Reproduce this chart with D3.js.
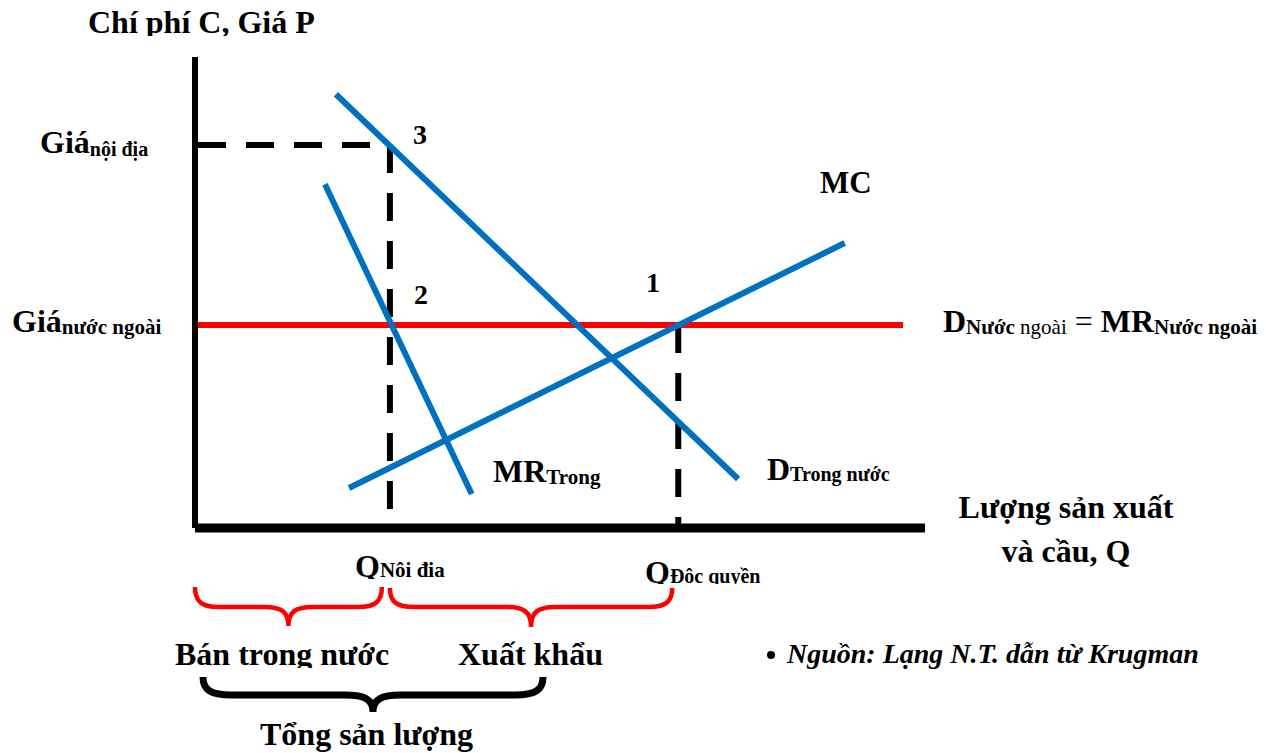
<!DOCTYPE html>
<html>
<head>
<meta charset="utf-8">
<script src="https://cdn.jsdelivr.net/npm/d3@7"></script>
<style>
  html, body { margin: 0; padding: 0; background: #fff; }
  svg { display: block; font-family: "Liberation Serif", "Times New Roman", serif; }
  text { font-weight: bold; fill: #000; }
</style>
</head>
<body>
<svg id="chart" width="1266" height="753"></svg>
<script>
// ---------- data (quantity Q on x, price/cost P on y, arbitrary units 0..100) ----------
const demandDomestic = [[19.3, 92.1], [74.4, 10.4]];   // D trong nước
const mrDomestic     = [[17.8, 73.0], [37.9, 7.2]];    // MR trong
const marginalCost   = [[21.1, 8.5],  [89.0, 60.5]];   // MC
const priceForeign   = 43.1;                            // Giá nước ngoài
const foreignLineEnd = 97.0;
const priceDomestic  = 81.3;                            // Giá nội địa
const qDomestic      = 26.7;                            // Q nội địa
const qMonopoly      = 66.2;                            // Q độc quyền
const pointLabels    = ["3", "2", "1"];

const svg = d3.select("#chart");
const x = d3.scaleLinear().domain([0, 100]).range([195, 925]);
const y = d3.scaleLinear().domain([0, 100]).range([528, 57]);
const line = d3.line().x(d => x(d[0])).y(d => y(d[1]));

const defs = svg.append("defs");
function clip(id, y0, y1) {
  defs.append("clipPath").attr("id", id).append("rect")
    .attr("x", 0).attr("y", y0).attr("width", 1266).attr("height", y1 - y0);
  return "url(#" + id + ")";
}

// ---------- dashed guide lines ----------
const dash = "28,20";
svg.append("path").attr("d", line([[0, priceDomestic], [qDomestic, priceDomestic]]))
  .attr("stroke", "#000").attr("stroke-width", 6).attr("fill", "none").attr("stroke-dasharray", dash)
  .attr("stroke-dashoffset", -3);
svg.append("path").attr("d", line([[qDomestic, priceDomestic], [qDomestic, 0]]))
  .attr("stroke", "#000").attr("stroke-width", 6).attr("fill", "none").attr("stroke-dasharray", dash);
svg.append("path").attr("d", line([[qMonopoly, priceForeign], [qMonopoly, 0]]))
  .attr("stroke", "#000").attr("stroke-width", 6).attr("fill", "none").attr("stroke-dasharray", dash);

// ---------- foreign price line ----------
svg.append("path").attr("d", line([[0, priceForeign], [foreignLineEnd, priceForeign]]))
  .attr("stroke", "#ff0000").attr("stroke-width", 6).attr("fill", "none");

// ---------- curves ----------
[demandDomestic, mrDomestic, marginalCost].forEach(seg => {
  svg.append("path").attr("d", line(seg))
    .attr("stroke", "#0070c0").attr("stroke-width", 6).attr("fill", "none");
});

// ---------- axes ----------
svg.append("path").attr("d", line([[0, 100], [0, 0]]))
  .attr("stroke", "#000").attr("stroke-width", 6).attr("fill", "none");
svg.append("path").attr("d", "M" + x(0) + "," + y(0) + "H" + x(100))
  .attr("stroke", "#000").attr("stroke-width", 9).attr("fill", "none");

// ---------- braces ----------
function brace(x1, x2, top, mid, tip, r) {
  const c = (x1 + x2) / 2;
  const h = mid - top, t = tip - mid;
  return `M${x1},${top} C${x1},${top + h * 0.75} ${x1 + r * 0.3},${mid} ${x1 + r},${mid} L${c - r},${mid} ` +
         `C${c - r * 0.3},${mid} ${c},${mid + t * 0.25} ${c},${tip} ` +
         `C${c},${mid + t * 0.25} ${c + r * 0.3},${mid} ${c + r},${mid} ` +
         `L${x2 - r},${mid} C${x2 - r * 0.3},${mid} ${x2},${top + h * 0.75} ${x2},${top}`;
}
svg.append("path").attr("d", brace(x(0), x(qDomestic) - 8, 587, 607, 626, 24))
  .attr("stroke", "#ff0000").attr("stroke-width", 4.5).attr("fill", "none");
svg.append("path").attr("d", brace(x(qDomestic), x(qMonopoly) - 6, 588, 607, 627, 24))
  .attr("stroke", "#ff0000").attr("stroke-width", 4.5).attr("fill", "none");
svg.append("path").attr("d", brace(203, 543, 677, 695, 712, 28))
  .attr("stroke", "#000").attr("stroke-width", 7).attr("fill", "none");

// ---------- text ----------
function label(tx, ty, parts, anchor, clipUrl) {
  const t = svg.append("text").attr("x", tx).attr("y", ty).attr("text-anchor", anchor || "start");
  if (clipUrl) t.attr("clip-path", clipUrl);
  parts.forEach(p => {
    const s = t.append("tspan").text(p.t).attr("font-size", p.s || 32);
    if (p.dy) s.attr("dy", p.dy);
    if (p.w) s.attr("font-weight", p.w);
    if (p.i) s.attr("font-style", "italic");
  });
  return t;
}

label(88, 33, [{t: "Chí phí C, Giá P"}], "start", clip("c1", 0, 36));
label(40, 153, [{t: "Giá"}, {t: "nội địa", s: 20, dy: 3}]);
label(12, 332, [{t: "Giá"}, {t: "nước ngoài", s: 21, dy: 2}]);
label(943, 332, [{t: "D"}, {t: "Nước", s: 21, dy: 2}, {t: " ngoài", s: 21, w: "normal"},
                 {t: " = ", s: 32, w: "normal", dy: -2}, {t: "MR"}, {t: "Nước ngoài", s: 21, dy: 2}]);
label(820, 193, [{t: "MC", s: 31}]);
label(413, 144, [{t: pointLabels[0], s: 28}]);
label(414, 304, [{t: pointLabels[1], s: 28}]);
label(646, 292, [{t: pointLabels[2], s: 28}]);
label(493, 482, [{t: "MR"}, {t: "Trong", s: 21, dy: 2}]);
label(767, 480, [{t: "D"}, {t: "Trong nước", s: 20, dy: 1}]);
label(1066, 518, [{t: "Lượng sản xuất"}], "middle");
label(1066, 562, [{t: "và cầu, Q"}], "middle");
label(355, 577, [{t: "Q"}, {t: "Nội địa", s: 21}], "start", clip("c2", 540, 579));
label(645, 583, [{t: "Q"}, {t: "Độc quyền", s: 20}], "start", clip("c3", 540, 584));
label(175, 665, [{t: "Bán trong nước"}], "start", clip("c4", 620, 668));
label(458, 665, [{t: "Xuất khẩu"}], "start", clip("c5", 620, 668));
label(260, 745, [{t: "Tổng sản lượng"}]);
svg.append("circle").attr("cx", 771).attr("cy", 655).attr("r", 4).attr("fill", "#000");
label(787, 663, [{t: "Nguồn: Lạng N.T. dẫn từ Krugman", s: 28, i: true}]);
</script>
</body>
</html>
